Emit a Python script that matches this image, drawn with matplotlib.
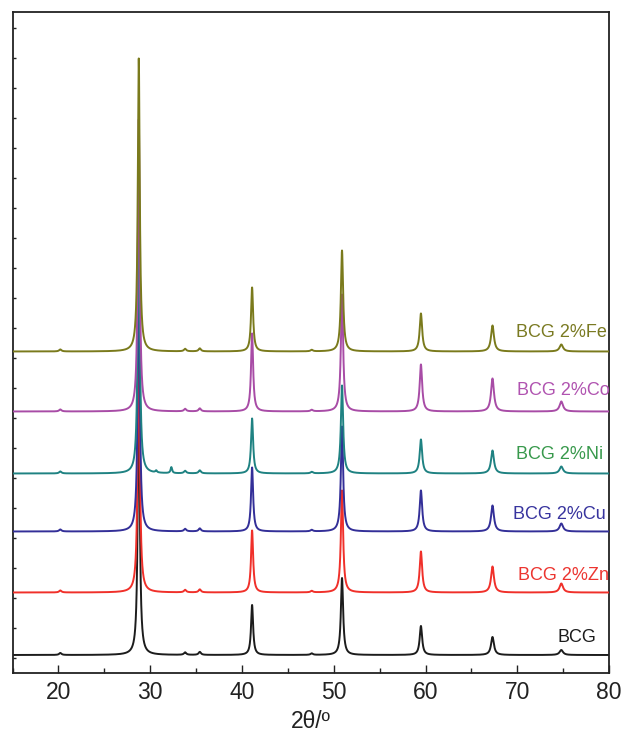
"""Stacked XRD patterns of BCG and 2% transition-metal doped BCG."""
import numpy as np
import matplotlib
matplotlib.use("Agg")
import matplotlib.pyplot as plt
from matplotlib.ticker import MultipleLocator

plt.rcParams["font.family"] = ["Liberation Sans", "DejaVu Sans"]

# Reflection positions (2theta, deg) and their widths (FWHM, deg)
peak_pos = [28.75, 41.1, 50.9, 59.5, 67.3, 74.8]
peak_fwhm = [0.25, 0.27, 0.29, 0.32, 0.38, 0.45]

# Weak secondary reflections shared by all patterns
minor_pos = [20.2, 33.8, 35.4, 47.6]
minor_height = [2.0, 2.5, 3.0, 1.5]

# Sample names, bottom to top
samples = ["BCG", "BCG 2%Zn", "BCG 2%Cu", "BCG 2%Ni", "BCG 2%Co", "BCG 2%Fe"]

# Baseline level of each pattern after stacking (a.u.)
offsets = [18.0, 80.5, 141.5, 199.5, 261.5, 321.5]

# Peak intensities above baseline, one list per sample (a.u.)
h_bcg = [285, 50, 77, 29, 18, 5]
h_zn = [288, 62, 102, 41, 26, 9]
h_cu = [288, 64, 105, 41, 26, 8]
h_ni = [290, 55, 88, 34, 23, 7]
h_co = [292, 78, 117, 47, 33, 10]
h_fe = [293, 64, 101, 38, 26, 7]
heights = [h_bcg, h_zn, h_cu, h_ni, h_co, h_fe]

# Extra impurity reflections seen only in the Ni-doped sample
ni_extra_pos = [30.65, 32.3]
ni_extra_height = [2.0, 6.0]

line_colors = ["#1c1c1c", "#f0302a", "#332f98", "#1f8282", "#a84ca6", "#7a7a1c"]
label_colors = ["#1c1c1c", "#ec3530", "#38349e", "#38994c", "#b053b0", "#7a7a22"]

# Label anchors (2theta, a.u.)
label_x = [74.4, 70.1, 69.5, 69.85, 70.0, 69.85]
label_y = [31.5, 93.2, 154.2, 213.8, 278.2, 335.8]


def lorentz(x, center, height, fwhm):
    hw = fwhm / 2.0
    return height * hw ** 2 / ((x - center) ** 2 + hw ** 2)


two_theta = np.arange(15.0, 80.0001, 0.01)

fig = plt.figure(figsize=(6.24, 7.34), dpi=100)
ax = fig.add_axes([0.0202, 0.0831, 0.9558, 0.9006])

for i, name in enumerate(samples):
    y = np.full_like(two_theta, offsets[i])
    for pos, h, w in zip(peak_pos, heights[i], peak_fwhm):
        y += lorentz(two_theta, pos, h, w)
    for pos, h in zip(minor_pos, minor_height):
        y += lorentz(two_theta, pos, h, 0.3)
    if name == "BCG 2%Ni":
        for pos, h in zip(ni_extra_pos, ni_extra_height):
            y += lorentz(two_theta, pos, h, 0.2)
    ax.plot(two_theta, y, color=line_colors[i], linewidth=1.4, zorder=2 + i)
    ax.text(label_x[i], label_y[i], name, color=label_colors[i],
            fontsize=13, ha="left", va="baseline")

ax.set_xlim(15, 80)
ax.set_ylim(0, 661)

ax.xaxis.set_major_locator(MultipleLocator(10))
ax.xaxis.set_minor_locator(MultipleLocator(5))
ax.set_xticks(np.arange(20, 81, 10))
ax.set_yticks(np.arange(15, 661, 30))
ax.set_yticklabels([])

ax.tick_params(axis="x", which="major", direction="in", length=6, width=1.0,
               labelsize=16.5, pad=6, top=False, colors="#222222")
ax.tick_params(axis="x", which="minor", direction="in", length=3.6, width=1.0,
               top=False, colors="#222222")
ax.tick_params(axis="y", which="major", direction="in", length=1.8, width=1.0,
               right=False, colors="#222222")

for spine in ax.spines.values():
    spine.set_linewidth(1.3)
    spine.set_color("#222222")

ax.set_xlabel("2θ/º", fontsize=16.5, labelpad=4, color="#222222")

fig.savefig("out.png", dpi=100)
plt.close(fig)
